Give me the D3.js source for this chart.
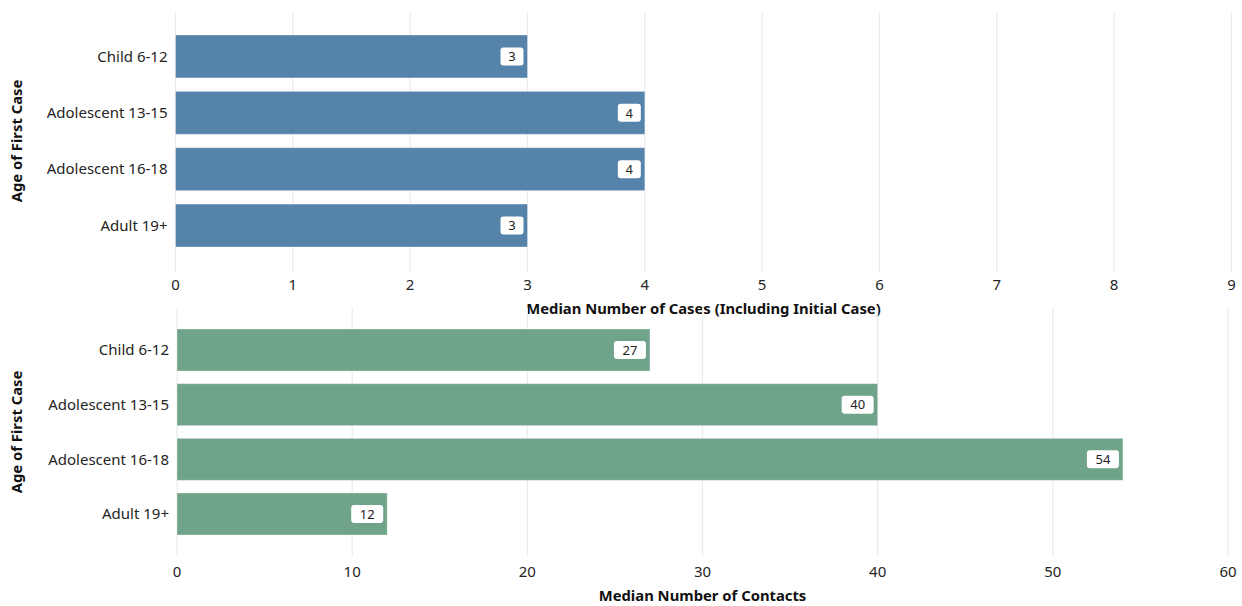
<!DOCTYPE html>
<html><head><meta charset="utf-8">
<script src="https://cdn.jsdelivr.net/npm/d3@7"></script>
<style>body{margin:0;background:#fff;} text{font-family:"Noto Sans","Open Sans",sans-serif;}</style>
</head><body>
<svg id="c" width="1242" height="606"></svg>
<script>
const categories = ["Child 6-12","Adolescent 13-15","Adolescent 16-18","Adult 19+"];
const casesValues = [3,4,4,3];
const contactsValues = [27,40,54,12];
const casesTicks = [0,1,2,3,4,5,6,7,8,9];
const contactsTicks = [0,10,20,30,40,50,60];

const svg = d3.select("#c");

function panel(cfg){
  const g = svg.append("g");
  const x = d3.scaleLinear().domain(cfg.domain).range([cfg.x0, cfg.x1]);
  const y = d3.scaleBand().domain(categories).range(cfg.band).paddingInner(cfg.pi).paddingOuter(0);
  g.selectAll(".grid").data(cfg.ticks).enter().append("line")
    .attr("x1", d=>x(d)).attr("x2", d=>x(d))
    .attr("y1", cfg.yTop).attr("y2", cfg.yBot)
    .attr("stroke", "#ebebeb").attr("stroke-width", 1.2);
  g.selectAll(".bar").data(cfg.values).enter().append("rect")
    .attr("x", x(0)).attr("y", (d,i)=>y(categories[i]))
    .attr("width", d=>x(d)-x(0)).attr("height", y.bandwidth())
    .attr("fill", cfg.color).attr("stroke", "rgba(255,255,255,0.35)").attr("stroke-width",1);
  const lab = g.selectAll(".lab").data(cfg.values).enter().append("g");
  lab.each(function(d,i){
    const s = d3.select(this);
    const t = String(d);
    const w = t.length===1 ? 23 : 32;
    const cx = x(d) - 4 - w/2;
    const cy = y(categories[i]) + y.bandwidth()/2;
    s.append("rect").attr("x", cx - w/2).attr("y", cy-9).attr("width", w).attr("height", 18)
      .attr("rx", 3).attr("fill", "#fff");
    s.append("text").attr("x", cx).attr("y", cy).attr("dy","0.36em").attr("text-anchor","middle")
      .attr("font-size", 13).attr("fill", "#222").text(t);
  });
  g.selectAll(".cat").data(categories).enter().append("text")
    .attr("x", x(0) - 8).attr("y", d=>y(d)+y.bandwidth()/2).attr("dy","0.35em")
    .attr("text-anchor","end").attr("font-size", 15).attr("fill","#252423").text(d=>d);
  g.selectAll(".tk").data(cfg.ticks).enter().append("text")
    .attr("x", d=>x(d)).attr("y", cfg.tickY).attr("dy","0.35em")
    .attr("text-anchor","middle").attr("font-size", 15).attr("fill","#252423").text(d=>d);
  g.append("text").attr("x", (cfg.x0+cfg.x1)/2).attr("y", cfg.titleY).attr("dy","0.35em")
    .attr("text-anchor","middle").attr("font-size", 14.8).attr("font-weight","bold").attr("fill","#111")
    .text(cfg.title);
  g.append("text").attr("transform", `translate(17,${cfg.yTitleC}) rotate(-90)`).attr("dy","0.35em")
    .attr("text-anchor","middle").attr("font-size", 14.8).attr("font-weight","bold").attr("fill","#111")
    .text("Age of First Case");
}

panel({domain:[0,9], ticks:casesTicks, values:casesValues, x0:175.5, x1:1231.5,
  yTop:13, yBot:272, band:[35,247], pi:0.238, color:"#5683aa", tickY:285, titleY:309,
  title:"Median Number of Cases (Including Initial Case)", yTitleC:141});
panel({domain:[0,60], ticks:contactsTicks, values:contactsValues, x0:177, x1:1228,
  yTop:308, yBot:556, band:[329,535], pi:0.232, color:"#6fa38a", tickY:572, titleY:596,
  title:"Median Number of Contacts", yTitleC:432});
</script>
</body></html>
